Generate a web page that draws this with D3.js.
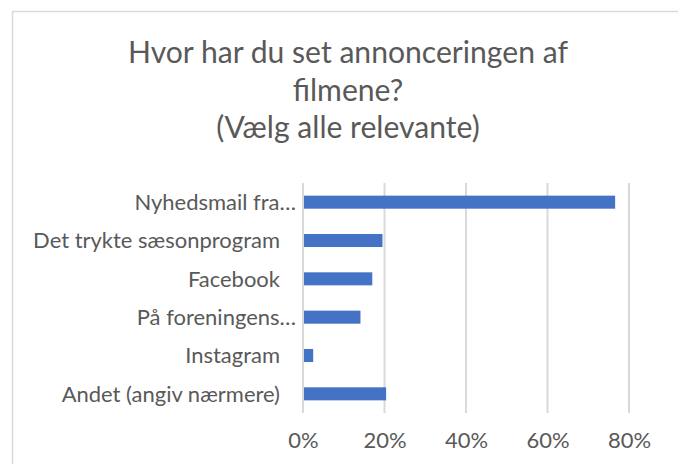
<!DOCTYPE html>
<html><head><meta charset="utf-8">
<script src="https://cdn.jsdelivr.net/npm/d3@7"></script>
<style>
html,body{margin:0;padding:0;background:#fff;}
svg{display:block;}
text{font-family:Lato, "Open Sans", sans-serif;fill:#595959;}
</style></head>
<body>
<svg id="c" width="678" height="464"></svg>
<script>
const titleLines = ["Hvor har du set annonceringen af", "filmene?", "(Vælg alle relevante)"];
const categories = ["Nyhedsmail fra…", "Det trykte sæsonprogram", "Facebook", "På foreningens…", "Instagram", "Andet (angiv nærmere)"];
const values = [0.766, 0.195, 0.170, 0.141, 0.025, 0.204];
const tickValues = [0, 0.2, 0.4, 0.6, 0.8];
const tickLabels = ["0%", "20%", "40%", "60%", "80%"];

const svg = d3.select("#c");
// chart frame
svg.append("rect").attr("x", 12.5).attr("y", 11.5).attr("width", 700).attr("height", 500)
  .attr("fill", "#fff").attr("stroke", "#d9d9d9").attr("stroke-width", 1.5);

const x = d3.scaleLinear().domain([0, 0.8]).range([303, 629]);
const y = d3.scaleBand().domain(categories).range([183, 413]).paddingInner(0.66).paddingOuter(0.33);

// fit helper: set font size so that text reaches target width
function fit(sel, targetW, base) {
  sel.attr("font-size", base);
  const w = sel.node().getComputedTextLength();
  sel.attr("font-size", base * targetW / w);
  return base * targetW / w;
}

// title
const tBase = [62.5, 100.5, 138];
const t1 = svg.append("text").attr("x", 348).attr("y", tBase[0]).attr("text-anchor", "middle").text(titleLines[0]);
const tSize = fit(t1, 440, 28);
svg.append("text").attr("x", 348).attr("y", tBase[1]).attr("text-anchor", "middle").attr("font-size", tSize).text(titleLines[1]);
svg.append("text").attr("x", 348).attr("y", tBase[2]).attr("text-anchor", "middle").attr("font-size", tSize).text(titleLines[2]);

// gridlines
svg.append("g").selectAll("line").data(tickValues).join("line")
  .attr("x1", d => x(d)).attr("x2", d => x(d))
  .attr("y1", 183).attr("y2", 413)
  .attr("stroke", "#d9d9d9").attr("stroke-width", 2);

// bars
svg.append("g").selectAll("rect").data(categories).join("rect")
  .attr("x", x(0) + 1)
  .attr("y", d => y(d))
  .attr("width", (d, i) => x(values[i]) - x(0) - 1)
  .attr("height", y.bandwidth())
  .attr("fill", "#4472c4");

// category labels
const probe = svg.append("text").text(categories[1]);
const lSize = fit(probe, 247, 20);
probe.remove();
svg.append("g").selectAll("text").data(categories).join("text")
  .attr("x", d => d.endsWith("…") ? 296 : 280)
  .attr("y", d => y(d) + y.bandwidth() / 2 + lSize * 0.36)
  .attr("text-anchor", "end")
  .attr("font-size", lSize)
  .text(d => d);

// x axis tick labels
const xAxis = d3.axisBottom(x).tickValues(tickValues).tickFormat((d, i) => tickLabels[i]).tickSize(0).tickPadding(0);
const ax = svg.append("g").attr("transform", "translate(0,432)").call(xAxis);
ax.select(".domain").remove();
ax.selectAll("text").attr("font-size", lSize).attr("fill", "#595959")
  .style("font-family", "Lato, 'Open Sans', sans-serif").attr("dy", "0.71em");
</script>
</body></html>
